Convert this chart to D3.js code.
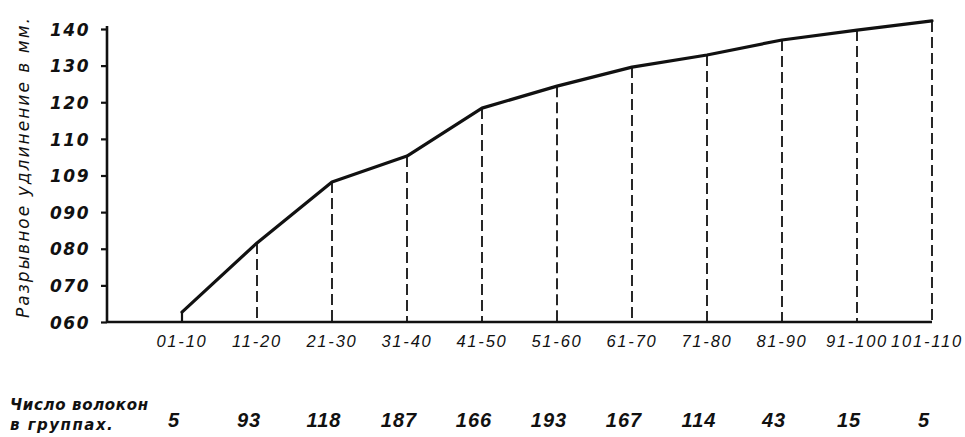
<!DOCTYPE html>
<html><head><meta charset="utf-8">
<script src="https://cdn.jsdelivr.net/npm/d3@7/dist/d3.min.js"></script>
<style>
html,body{margin:0;padding:0;background:#fff;}
svg{display:block;}
text{font-family:"DejaVu Sans",sans-serif;font-style:italic;fill:#111;}
</style></head>
<body>
<svg id="c" width="965" height="437"></svg>
<script>
const categories = ["01-10","11-20","21-30","31-40","41-50","51-60","61-70","71-80","81-90","91-100","101-110"];
const elongation = [62.7, 81.6, 98.2, 105.3, 118.4, 124.4, 129.6, 132.9, 137.0, 139.7, 142.2];
const fiberCounts = [5, 93, 118, 187, 166, 193, 167, 114, 43, 15, 5];
const yTickValues = [60, 70, 80, 90, 100, 110, 120, 130, 140];
const yTickLabels = ["060", "070", "080", "090", "109", "110", "120", "130", "140"];
const yTitle = "Разрывное удлинение в мм.";
const countTitle = ["Число волокон", "в группах."];

const svg = d3.select("#c");
const x = d3.scalePoint().domain(categories).range([182, 932]);
const y = d3.scaleLinear().domain([60, 140]).range([322, 29]);
const x0 = 107;

// dashed verticals
const g = svg.append("g");
categories.forEach((c, i) => {
  g.append("line")
    .attr("x1", x(c)).attr("x2", x(c))
    .attr("y1", y(elongation[i])).attr("y2", y(60))
    .attr("stroke", "#111")
    .attr("stroke-width", i === 0 ? 2.2 : 1.8)
    .attr("stroke-dasharray", i === 0 ? null : "11,5");
});

// y axis
const yAxis = d3.axisLeft(y).tickValues(yTickValues)
  .tickFormat((d, i) => yTickLabels[i]).tickSize(6).tickPadding(11);
const ya = svg.append("g").attr("transform", `translate(${x0},0)`).call(yAxis);
ya.select(".domain").remove();
ya.selectAll(".tick line").attr("stroke", "#111").attr("stroke-width", 2.2);
ya.selectAll(".tick text").style("font-size", "17px").style("font-weight", "bold")
  .attr("letter-spacing", "1.5").attr("fill", "#111").attr("dy", "0.36em");
svg.append("line").attr("x1", x0).attr("x2", x0).attr("y1", y(140) - 3).attr("y2", y(60))
  .attr("stroke", "#111").attr("stroke-width", 2.6);

// x axis baseline
svg.append("line").attr("x1", x0).attr("x2", x(categories[categories.length - 1]))
  .attr("y1", y(60)).attr("y2", y(60)).attr("stroke", "#111").attr("stroke-width", 2.4);

// x labels
const xl = svg.append("g").selectAll("text").data(categories).join("text")
  .attr("x", d => x(d)).attr("y", 347).attr("text-anchor", "middle")
  .attr("letter-spacing", "1.8")
  .style("font-family", "'Liberation Sans', sans-serif")
  .style("font-size", "16.5px")
  .text(d => d);
xl.each(function(d) {
  const w = this.getComputedTextLength();
  const right = x(d) + w / 2;
  if (right > 963) d3.select(this).attr("x", x(d) - (right - 963));
});

// line
const line = d3.line().x((d, i) => x(categories[i])).y(d => y(d));
svg.append("path").datum(elongation).attr("d", line)
  .attr("fill", "none").attr("stroke", "#111").attr("stroke-width", 3.2)
  .attr("stroke-linejoin", "round").attr("stroke-linecap", "round");

// y title
svg.append("text")
  .attr("transform", "translate(29,318) rotate(-90)")
  .attr("textLength", 300).attr("lengthAdjust", "spacing")
  .style("font-size", "17px")
  .text(yTitle);

// count row
svg.append("g").selectAll("text").data(fiberCounts).join("text")
  .attr("x", (d, i) => x(categories[i]) - 8).attr("y", 427).attr("text-anchor", "middle")
  .attr("letter-spacing", "1")
  .style("font-family", "'Liberation Sans', sans-serif")
  .style("font-size", "20px").style("font-weight", "bold")
  .text(d => d);
svg.append("text").attr("x", 10).attr("y", 410)
  .attr("textLength", 138).attr("lengthAdjust", "spacing")
  .style("font-size", "15px").style("font-weight", "bold").text(countTitle[0]);
svg.append("text").attr("x", 10).attr("y", 430)
  .style("font-size", "15px").style("font-weight", "bold").attr("letter-spacing", "1.5").text(countTitle[1]);
</script>
</body></html>
